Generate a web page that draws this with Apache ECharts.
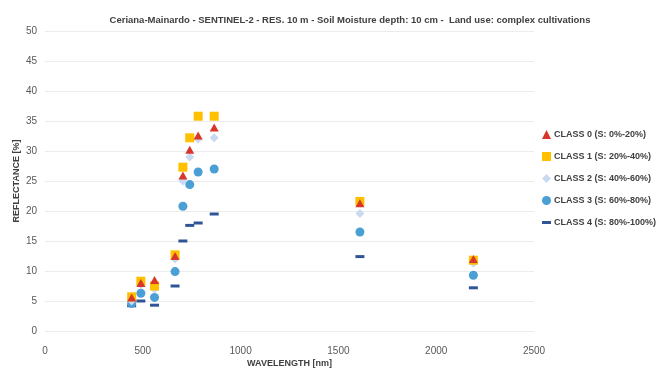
<!DOCTYPE html>
<html><head><meta charset="utf-8">
<script src="https://cdn.jsdelivr.net/npm/echarts@6/dist/echarts.min.js"></script>
<style>html,body{margin:0;padding:0;background:#fff}#c{width:665px;height:368px}</style>
</head><body><div id="c"></div>
<script>
const wavelengths = [443, 490, 560, 665, 705, 740, 783, 865, 1610, 2190];
const class0 = [5.6, 8.0, 8.5, 12.5, 25.9, 30.2, 32.6, 33.9, 21.3, 12.0];
const class1 = [5.7, 8.3, 7.5, 12.7, 27.3, 32.2, 35.8, 35.8, 21.6, 11.8];
const class2 = [5.0, 7.7, 7.0, 12.0, 25.0, 29.0, 32.0, 32.2, 19.6, 11.3];
const class3 = [4.6, 6.3, 5.6, 9.9, 20.8, 24.4, 26.5, 27.0, 16.5, 9.3];
const class4 = [4.2, 5.0, 4.3, 7.5, 15.0, 17.6, 18.0, 19.5, 12.4, 7.2];
const seriesNames = ['CLASS 0 (S: 0%-20%)', 'CLASS 1 (S: 20%-40%)', 'CLASS 2 (S: 40%-60%)', 'CLASS 3 (S: 60%-80%)', 'CLASS 4 (S: 80%-100%)'];
const xTicks = [0, 500, 1000, 1500, 2000, 2500];
const yTicks = [0, 5, 10, 15, 20, 25, 30, 35, 40, 45, 50];

const values = [class0, class1, class2, class3, class4];
const colors = ['#d9362b', '#ffc000', '#c9daf0', '#4a9fd4', '#2f5597'];
const dashPath = 'path://M0,0 L30,0 L30,10 L0,10 Z';
const symbols = ['triangle', 'rect', 'diamond', 'circle', 'rect'];
const legendIcons = ['triangle', 'rect', 'diamond', 'circle', dashPath];
const sizes = [[9, 8], [9, 9], [9, 9], [9, 9], [9, 3]];
const font = 'Liberation Sans';

const chart = echarts.init(document.getElementById('c'), null, {renderer: 'canvas'});
chart.setOption({
  animation: false,
  backgroundColor: '#fff',
  title: {
    text: 'Ceriana-Mainardo - SENTINEL-2 - RES. 10 m - Soil Moisture depth: 10 cm -  Land use: complex cultivations',
    left: 345, top: 10, textAlign: 'center',
    textStyle: {fontFamily: font, fontSize: 9.5, fontWeight: 'bold', color: '#404040'}
  },
  legend: {
    orient: 'vertical', left: 537, top: 125, itemGap: 13,
    itemWidth: 9, itemHeight: 9,
    textStyle: {fontFamily: font, fontSize: 9, fontWeight: 'bold', color: '#404040', padding: [0, 0, 0, -2]},
    data: seriesNames.map((n, i) => ({name: n, icon: legendIcons[i]}))
  },
  grid: {left: 45, right: 131, top: 31, bottom: 37, containLabel: false, outerBoundsMode: 'none'},
  xAxis: {
    type: 'value', min: xTicks[0], max: xTicks[xTicks.length - 1], interval: 500,
    name: 'WAVELENGTH [nm]', nameLocation: 'middle', nameGap: 28, nameMoveOverlap: false,
    nameTextStyle: {fontFamily: font, fontSize: 9, fontWeight: 'bold', color: '#404040'},
    axisLine: {show: false}, axisTick: {show: false},
    axisLabel: {fontFamily: font, fontSize: 10, color: '#595959', margin: 15, formatter: v => String(v)},
    splitLine: {show: false}
  },
  yAxis: {
    type: 'value', min: yTicks[0], max: yTicks[yTicks.length - 1], interval: 5,
    name: 'REFLECTANCE [%]', nameLocation: 'middle', nameGap: 24, nameMoveOverlap: false,
    nameTextStyle: {fontFamily: font, fontSize: 9, fontWeight: 'bold', color: '#404040'},
    axisLine: {show: false}, axisTick: {show: false},
    axisLabel: {fontFamily: font, fontSize: 10, color: '#595959', margin: 8},
    splitLine: {show: true, lineStyle: {color: '#ececec', width: 1}}
  },
  series: values.map((v, i) => ({
    name: seriesNames[i], type: 'scatter',
    symbol: symbols[i], symbolSize: sizes[i],
    itemStyle: {color: colors[i], opacity: 1},
    z: 10 - i,
    data: wavelengths.map((w, j) => [w, v[j]])
  }))
});
</script></body></html>
